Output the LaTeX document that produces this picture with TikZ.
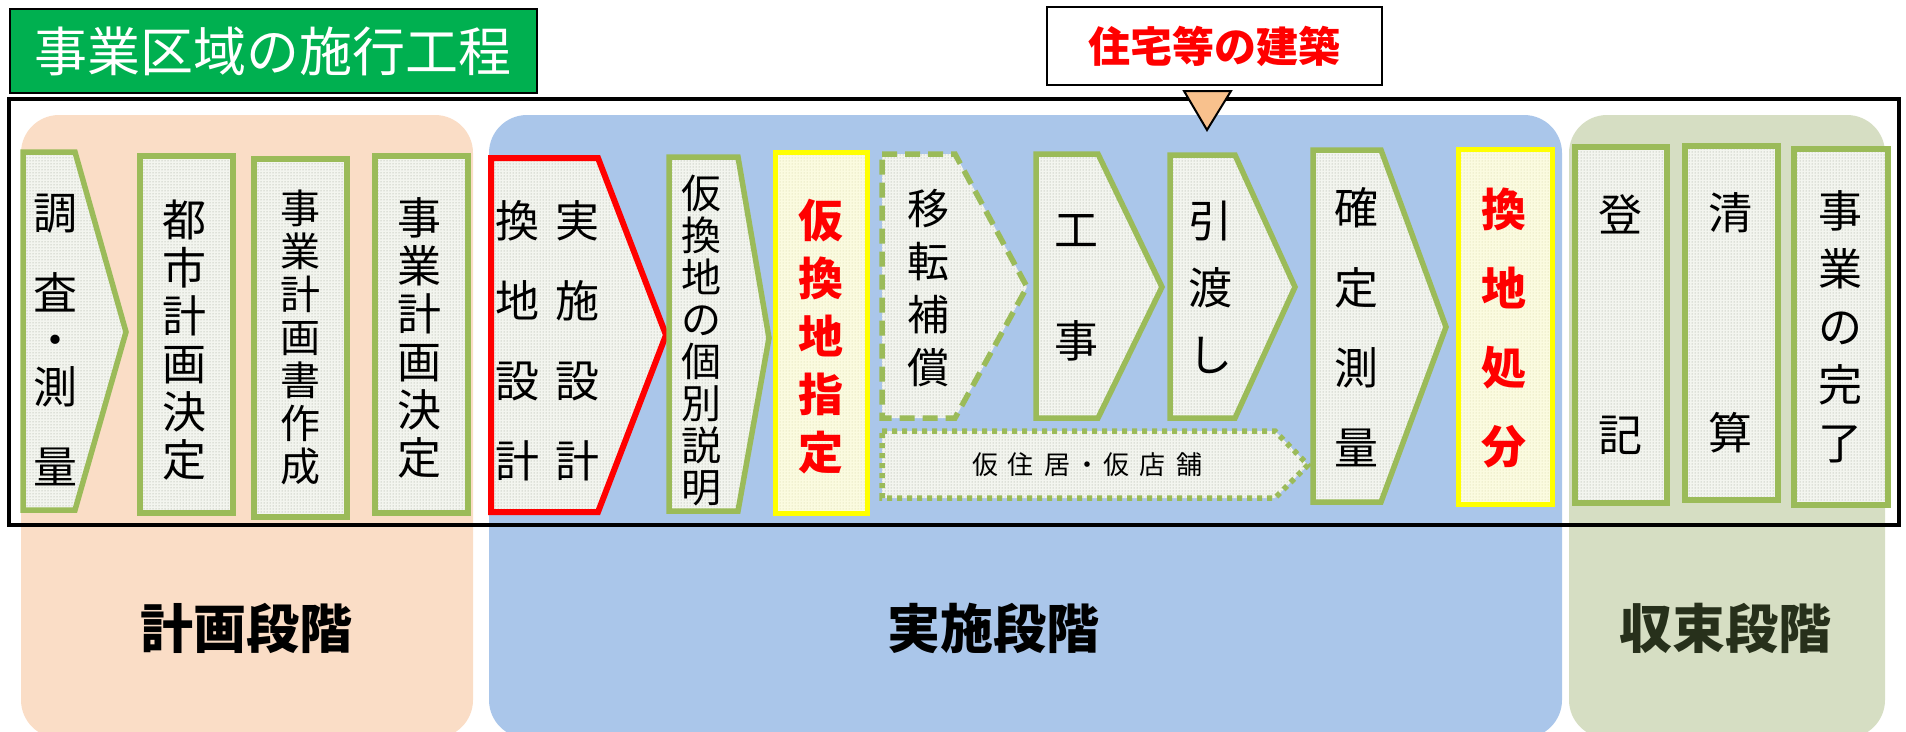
\documentclass[tikz,border=0pt]{standalone}
\usepackage{fontspec}
\setmainfont{Noto Sans CJK JP}
\usetikzlibrary{patterns}
\definecolor{titlegreen}{HTML}{00B050}
\definecolor{stepgreen}{HTML}{9BBB59}
\definecolor{peach}{HTML}{FADDC6}
\definecolor{skyblue}{HTML}{AAC6EA}
\definecolor{sage}{HTML}{D6DEC3}
\definecolor{boxfill}{HTML}{F3F5EF}
\definecolor{dotgray}{HTML}{979C8E}
\definecolor{paleyellow}{HTML}{FBFBE0}
\definecolor{dotyellow}{HTML}{CFCF9E}
\definecolor{markred}{HTML}{FF0000}
\definecolor{markyellow}{HTML}{FFFF00}
\definecolor{triorange}{HTML}{F8C18D}
\definecolor{darkolive}{HTML}{27301B}
\tikzset{
  phase/.style={rounded corners=38pt},
  stepbox/.style={draw=stepgreen, line width=5.5pt, preaction={fill=boxfill},
    pattern=dots, pattern color=dotgray},
  stepred/.style={stepbox, draw=markred, line width=6pt},
  stepdash/.style={stepbox, dash pattern=on 15pt off 8pt},
  stepdot/.style={stepbox, dash pattern=on 5pt off 5pt},
  keybox/.style={draw=markyellow, line width=5pt, preaction={fill=paleyellow},
    pattern=dots, pattern color=dotyellow},
  vlabel/.style={align=center, inner sep=0pt},
  phaselabel/.style={inner sep=0pt, font=\fontsize{53}{60}\selectfont\bfseries},
}
\begin{document}
\begin{tikzpicture}[x=1pt,y=-1pt]
        \useasboundingbox (0,0) rectangle (1906,731);
        % The three phases
        \fill[peach, phase] (21,115) rectangle (473,738);
        \fill[skyblue, phase] (489,115) rectangle (1562,738);
        \fill[sage, phase] (1569,115) rectangle (1885,738);
        % The frame round the steps
        \draw[line width=4.5pt] (9,99) rectangle (1899,525);
        % The title and the building note
        \node[draw, line width=2pt, fill=titlegreen, text=white,
            minimum width=527pt, minimum height=84pt,
            font=\fontsize{53}{60}\selectfont] (title) at (273,51) {事業区域の施行工程};
        \node[draw, line width=2pt, fill=white, text=markred,
            minimum width=335pt, minimum height=78pt,
            font=\fontsize{42}{48}\selectfont\bfseries] (jutaku) at (1214.5,46) {住宅等の建築};
        \draw[fill=triorange, line width=2pt] (1184,91) -- (1231,91) -- (1207,130) -- cycle;
        % Planning phase
        \draw[stepbox] (23,152) -- (75,152) -- (126,332) -- (75,510) -- (23,510) -- cycle;
        \node[vlabel, font=\fontsize{44}{47}\selectfont] (chosa) at (55,340)
            {調\\[33pt]査\\・\\測\\[33pt]量};
        \draw[stepbox] (140,156) rectangle (233,513);
        \node[vlabel, font=\fontsize{44}{48}\selectfont] (toshi) at (184,340)
            {都\\市\\計\\画\\決\\定};
        \draw[stepbox] (254,159) rectangle (347,517);
        \node[vlabel, font=\fontsize{40}{43}\selectfont] (shosaku) at (300,337)
            {事\\業\\計\\画\\書\\作\\成};
        \draw[stepbox] (375,156) rectangle (468,513);
        \node[vlabel, font=\fontsize{44}{48}\selectfont] (kettei) at (419,338)
            {事\\業\\計\\画\\決\\定};
        % Execution phase
        \draw[stepred] (491,158) -- (598,158) -- (666,335) -- (598,512) -- (491,512) -- cycle;
        \node[vlabel, font=\fontsize{44}{80}\selectfont] (jisshi) at (577,341)
            {実\\施\\設\\計};
        \node[vlabel, font=\fontsize{44}{80}\selectfont] (kanchi) at (517,341)
            {換\\地\\設\\計};
        \draw[stepbox] (669,157) -- (738,157) -- (769,338) -- (738,511) -- (669,511) -- cycle;
        \node[vlabel, font=\fontsize{40}{42}\selectfont] (setsumei) at (701,340)
            {仮\\換\\地\\の\\個\\別\\説\\明};
        \draw[keybox] (775,152) rectangle (867,513);
        \node[vlabel, text=markred, font=\fontsize{45}{58}\selectfont\bfseries] (shitei) at (821,337)
            {仮\\換\\地\\指\\定};
        \draw[stepdash] (882,154) -- (955,154) -- (1027,287) -- (955,418) -- (882,418) -- cycle;
        \node[vlabel, font=\fontsize{42}{53}\selectfont] (iten) at (928,288)
            {移\\転\\補\\償};
        \draw[stepbox] (1036,154) -- (1098,154) -- (1162,287) -- (1098,418) -- (1036,418) -- cycle;
        \node[vlabel, font=\fontsize{44}{111}\selectfont] (kouji) at (1076,288)
            {工\\事};
        \draw[stepbox] (1170,155) -- (1235,155) -- (1295,287) -- (1235,418) -- (1170,418) -- cycle;
        \node[vlabel, font=\fontsize{44}{67}\selectfont] (hikiwatashi) at (1210,287)
            {引\\渡\\し};
        \draw[stepdot] (882,431) -- (1275,431) -- (1308,465) -- (1275,498) -- (882,498) -- cycle;
        \node[inner sep=0pt, font=\fontsize{26}{30}\selectfont] (karijukyo) at (1087,465)
            {仮\hspace{10pt}住\hspace{10pt}居\hspace{4pt}・\hspace{4pt}仮\hspace{10pt}店\hspace{10pt}舗};
        \draw[stepbox] (1313,150) -- (1381,150) -- (1446,327) -- (1381,502) -- (1313,502) -- cycle;
        \node[vlabel, font=\fontsize{44}{80}\selectfont] (kakutei) at (1356,327)
            {確\\定\\測\\量};
        \draw[keybox] (1458,149) rectangle (1552,504);
        \node[vlabel, text=markred, font=\fontsize{45}{79}\selectfont\bfseries] (shobun) at (1504,328)
            {換\\地\\処\\分};
        % Closing phase
        \draw[stepbox] (1575,147) rectangle (1667,503);
        \node[vlabel, font=\fontsize{44}{220}\selectfont] (touki) at (1620,325)
            {登\\記};
        \draw[stepbox] (1685,146) rectangle (1778,500);
        \node[vlabel, font=\fontsize{44}{220}\selectfont] (seisan) at (1730,323)
            {清\\算};
        \draw[stepbox] (1794,149) rectangle (1888,505);
        \node[vlabel, font=\fontsize{44}{58}\selectfont] (kanryou) at (1840,327)
            {事\\業\\の\\完\\了};
        % Phase names
        \node[phaselabel] (keikaku) at (246,628) {計画段階};
        \node[phaselabel] (jisshidankai) at (993,628) {実施段階};
        \node[phaselabel, text=darkolive] (shusoku) at (1725,628) {収束段階};
    \end{tikzpicture}
\end{document}
